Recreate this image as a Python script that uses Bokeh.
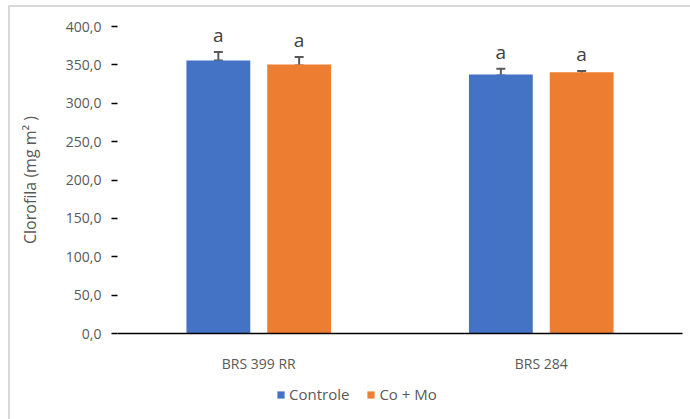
from bokeh.plotting import figure
from bokeh.layouts import column
from bokeh.models import (ColumnDataSource, FactorRange, Whisker, TeeHead, Legend,
                          LegendItem, FixedTicker, CustomJSTickFormatter, Range1d)
from bokeh.transform import dodge
from bokeh.embed import file_html
from bokeh.resources import INLINE
from bokeh.core.properties import value

# ---- data ----
cultivars = ["BRS 399 RR", "BRS 284"]
series_names = ["Controle", "Co + Mo"]
controle = [355.8, 337.6]
como = [350.6, 340.5]
controle_upper = [366.7, 345.0]
controle_lower = [355.8, 336.2]
como_upper = [360.2, 341.9]
como_lower = [349.2, 338.0]
letters_controle = ["a", "a"]
letters_como = ["a", "a"]
y_ticks = [0, 50, 100, 150, 200, 250, 300, 350, 400]
y_title = "Clorofila (mg m² )"

BLUE = "#4472C4"
ORANGE = "#ED7D31"
GRAY = "#595959"
FONT = "Open Sans"

src = ColumnDataSource(dict(
    cat=cultivars, controle=controle, como=como,
    cu=controle_upper, cl=controle_lower, ou=como_upper, ol=como_lower,
    lc=letters_controle, lo=letters_como,
))

p = figure(x_range=FactorRange(*cultivars, range_padding=0), y_range=Range1d(0, 400),
           width=680, height=368, output_backend="svg", toolbar_location=None,
           min_border_left=107, min_border_right=8, min_border_top=19, min_border_bottom=42)
p.outline_line_color = None
p.xgrid.visible = False
p.ygrid.visible = False

off = 0.143
bw = 0.226
r1 = p.vbar(x=dodge("cat", -off, range=p.x_range), top="controle", width=bw, source=src,
            fill_color=BLUE, line_color=None)
r2 = p.vbar(x=dodge("cat", off, range=p.x_range), top="como", width=bw, source=src,
            fill_color=ORANGE, line_color=None)

for xoff, up, lo in [(-off, "cu", "cl"), (off, "ou", "ol")]:
    w = Whisker(base=dodge("cat", xoff, range=p.x_range), upper=up, lower=lo, source=src,
                line_color=GRAY, line_width=2,
                upper_head=TeeHead(size=9, line_color=GRAY, line_width=2),
                lower_head=TeeHead(size=9, line_color=GRAY, line_width=2))
    p.add_layout(w)

for xoff, up, lab in [(-off, "cu", "lc"), (off, "ou", "lo")]:
    p.text(x=dodge("cat", xoff, range=p.x_range), y=up, text=lab, source=src,
           text_font=value(FONT), text_font_size="19px", text_color="#404040",
           text_align="center", text_baseline="bottom", y_offset=-4)

# y axis
p.yaxis.ticker = FixedTicker(ticks=y_ticks)
p.yaxis.formatter = CustomJSTickFormatter(code="return tick.toFixed(1).replace('.', ',');")
p.yaxis.axis_line_color = None
p.yaxis.major_tick_in = 0
p.yaxis.major_tick_out = 6
p.yaxis.major_tick_line_color = "black"
p.yaxis.major_tick_line_width = 1.5
p.yaxis.minor_tick_line_color = None
p.yaxis.major_label_standoff = 10
p.yaxis.major_label_text_font = FONT
p.yaxis.major_label_text_font_size = "14px"
p.yaxis.major_label_text_color = GRAY
p.yaxis.axis_label = y_title
p.yaxis.axis_label_text_font = FONT
p.yaxis.axis_label_text_font_size = "16px"
p.yaxis.axis_label_text_font_style = "normal"
p.yaxis.axis_label_text_color = GRAY
p.yaxis.axis_label_standoff = 22

# x axis
p.xaxis.axis_line_color = "black"
p.xaxis.axis_line_width = 1.5
p.xaxis.major_tick_line_color = None
p.xaxis.minor_tick_line_color = None
p.xaxis.major_tick_out = 0
p.xaxis.major_label_standoff = 20
p.xaxis.major_label_text_font = FONT
p.xaxis.major_label_text_font_size = "14px"
p.xaxis.major_label_text_color = GRAY

# legend strip (bars of the real data lie outside its visible y range)
lf = figure(width=680, height=44, x_range=FactorRange(*cultivars), y_range=Range1d(1000, 1001),
            output_backend="svg", toolbar_location=None,
            x_axis_location=None, y_axis_location=None,
            min_border_left=0, min_border_right=0, min_border_top=0, min_border_bottom=0)
lf.outline_line_color = None
lf.xgrid.visible = False
lf.ygrid.visible = False
lr1 = lf.vbar(x=dodge("cat", -off, range=lf.x_range), top="controle", width=bw, source=src,
              fill_color=BLUE, line_color=None)
lr2 = lf.vbar(x=dodge("cat", off, range=lf.x_range), top="como", width=bw, source=src,
              fill_color=ORANGE, line_color=None)
legend = Legend(items=[LegendItem(label=series_names[0], renderers=[lr1]),
                       LegendItem(label=series_names[1], renderers=[lr2])],
                orientation="horizontal", location=(159, 15),
                glyph_width=9, glyph_height=9, label_standoff=4, spacing=17,
                padding=0, margin=0, border_line_color=None, background_fill_alpha=0,
                label_text_font=FONT, label_text_font_size="15px", label_text_color=GRAY)
lf.add_layout(legend, "center")

layout = column(p, lf, spacing=0,
                styles={"margin-left": "8px", "margin-top": "5px",
                        "border-top": "2px solid #d9d9d9", "border-left": "2px solid #d9d9d9"})

open("out.html", "w").write(file_html(layout, INLINE))
